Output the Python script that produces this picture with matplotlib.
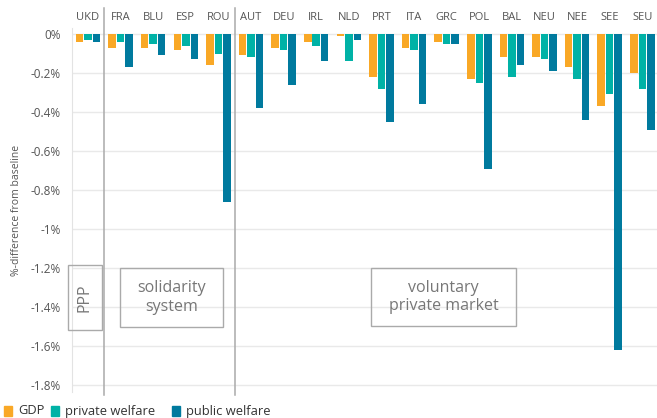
import numpy as np
import matplotlib
matplotlib.use("Agg")
import matplotlib.pyplot as plt
from matplotlib.patches import Rectangle
from matplotlib.lines import Line2D

plt.rcParams["font.family"] = ["Open Sans", "DejaVu Sans"]

countries = ["UKD", "FRA", "BLU", "ESP", "ROU", "AUT", "DEU", "IRL", "NLD",
             "PRT", "ITA", "GRC", "POL", "BAL", "NEU", "NEE", "SEE", "SEU"]
gdp = [-0.04, -0.07, -0.07, -0.08, -0.16, -0.11, -0.07, -0.04, -0.01,
       -0.22, -0.07, -0.04, -0.23, -0.12, -0.12, -0.17, -0.37, -0.20]
private_welfare = [-0.03, -0.04, -0.05, -0.06, -0.10, -0.12, -0.08, -0.06, -0.14,
                   -0.28, -0.08, -0.05, -0.25, -0.22, -0.13, -0.23, -0.31, -0.28]
public_welfare = [-0.04, -0.17, -0.11, -0.13, -0.86, -0.38, -0.26, -0.14, -0.03,
                  -0.45, -0.36, -0.05, -0.69, -0.16, -0.19, -0.44, -1.62, -0.49]
yticks = [0, -0.2, -0.4, -0.6, -0.8, -1.0, -1.2, -1.4, -1.6, -1.8]
ytick_labels = ["0%", "-0.2%", "-0.4%", "-0.6%", "-0.8%", "-1%", "-1.2%", "-1.4%", "-1.6%", "-1.8%"]
series_names = ["GDP", "private welfare", "public welfare"]

c_gdp = "#F9A826"
c_priv = "#00B2A6"
c_pub = "#007A9E"

W, H = 657, 418
fig = plt.figure(figsize=(W / 100, H / 100), dpi=100)
ax = fig.add_axes([72 / W, 1 - 392 / H, 1 - 72 / W, (392 - 28) / H])

x = np.arange(len(countries))
bw = 0.23
off = 0.26
ax.bar(x - off, gdp, bw, color=c_gdp, zorder=3)
ax.bar(x, private_welfare, bw, color=c_priv, zorder=3)
ax.bar(x + off, public_welfare, bw, color=c_pub, zorder=3)

ax.set_xlim(-0.49, 17.45)
ax.set_ylim(-1.836, 0.031)
ax.set_yticks(yticks)
ax.set_yticklabels(ytick_labels)
ax.tick_params(axis="y", length=0, pad=8, labelsize=8.5, labelcolor="#555555")
ax.set_xticks([])
ax.grid(axis="y", color="#e9e9e9", linewidth=1, zorder=0)
for s in ["top", "right", "bottom"]:
    ax.spines[s].set_visible(False)
ax.spines["left"].set_color("#e3e3e3")

# country labels above the plot
for i, c in enumerate(countries):
    ax.text(i, 1.0 + 0.03, c, transform=ax.get_xaxis_transform(), ha="center",
            va="center", fontsize=8, color="#555555")
ax.set_ylabel("%-difference from baseline", fontsize=7.5, color="#555555", labelpad=6)

# separators between systems
for xp in [0.5, 4.5]:
    xf = ax.transData.transform((xp, 0))[0] / W
    fig.add_artist(Line2D([xf, xf], [1 - 8 / H, 1 - 395 / H], color="#aaaaaa",
                          linewidth=1.1, transform=fig.transFigure))

def box(x0, y0, x1, y1, text, rot=0):
    fig.add_artist(Rectangle((x0 / W, 1 - y1 / H), (x1 - x0) / W, (y1 - y0) / H,
                             transform=fig.transFigure, fill=False,
                             edgecolor="#aaaaaa", linewidth=1))
    fig.text((x0 + x1) / 2 / W, 1 - (y0 + y1) / 2 / H, text, ha="center", va="center",
             fontsize=11.5, color="#777777", rotation=rot, linespacing=1.2)

box(68, 265, 102, 330, "PPP", rot=90)
box(120, 268, 223, 327, "solidarity\nsystem")
box(371, 268, 516, 326, "voluntary\nprivate market")

# legend drawn by hand so the items sit where they do in the original
for px, name, col in zip([4, 51, 172], series_names, [c_gdp, c_priv, c_pub]):
    fig.add_artist(Rectangle((px / W, 1 - 416 / H), 8 / W, 10 / H,
                             transform=fig.transFigure, color=col))
    fig.text((px + 14) / W, 1 - 411 / H, name, ha="left", va="center",
             fontsize=9.3, color="#333333")

fig.savefig("out.png", dpi=100)
